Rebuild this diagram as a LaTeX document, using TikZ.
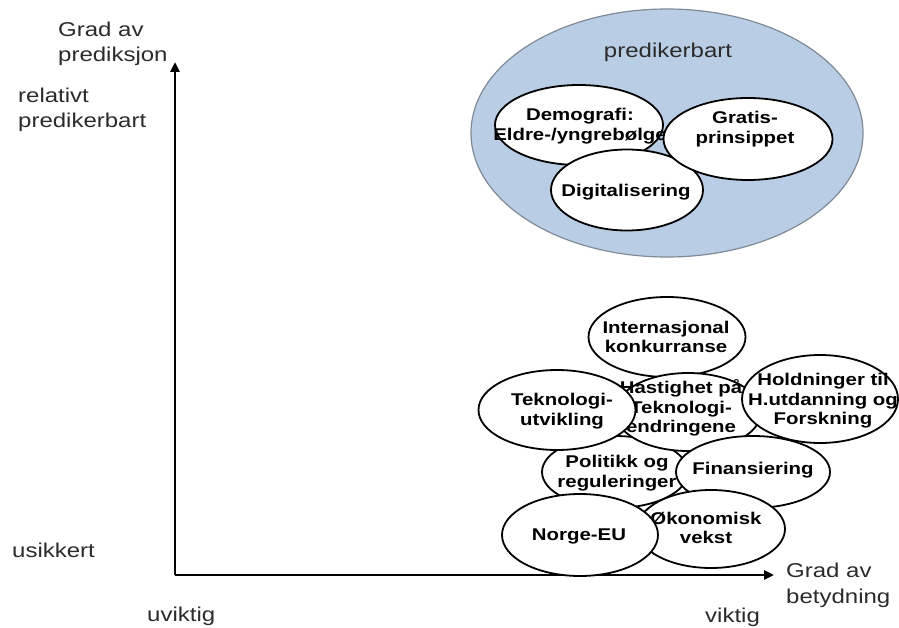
\documentclass[tikz,border=0pt]{standalone}
\usepackage{fontspec}
\setmainfont[FakeStretch=1.2]{Liberation Sans}
\usetikzlibrary{shapes.geometric,arrows.meta}
\definecolor{cloudfill}{HTML}{B9CDE5}
\definecolor{cloudedge}{HTML}{7F8A96}
\definecolor{labelgray}{HTML}{2B2B2B}
\tikzset{
  factor/.style={ellipse,draw=black,line width=1.8pt,fill=white,inner sep=0pt},
  factortext/.style={align=center,inner sep=0pt,font=\bfseries\fontsize{17}{19.5}\selectfont},
  axislabel/.style={align=left,inner sep=0pt,anchor=west,text=labelgray,font=\fontsize{20}{25}\selectfont},
  axisline/.style={line width=2.6pt,-{Triangle[length=10pt,width=9pt]}}
}
\begin{document}
\begin{tikzpicture}[x=1pt,y=-1pt]
\useasboundingbox (0,0) rectangle (899,628);

% axes
\coordinate (origin) at (175,575);
\coordinate (ytop) at (175,62);
\coordinate (xend) at (774,575);
\draw[axisline] (origin) -- (ytop);
\draw[axisline] (origin) -- (xend);

% axis captions
\node[axislabel] (ycap) at (58,44) {Grad av\\prediksjon};
\node[axislabel] (yhigh) at (18,110) {relativt\\predikerbart};
\node[axislabel] (ylow) at (12,550) {usikkert};
\node[axislabel] (xlow) at (147,616) {uviktig};
\node[axislabel] (xhigh) at (705,617) {viktig};
\node[axislabel,font=\fontsize{20}{26}\selectfont] (xcap) at (786,585) {Grad av\\betydning};

% predictable group
\node[ellipse,draw=cloudedge,line width=1.2pt,fill=cloudfill,minimum width=392pt,minimum height=248pt,inner sep=0pt] (cloud) at (667,133) {};
\node[inner sep=0pt,text=labelgray,font=\fontsize{20}{25}\selectfont] (cloudlbl) at (668,52) {predikerbart};

\node[factor,minimum width=168pt,minimum height=80pt] (demo) at (579,125) {};
\node[factortext] (demo-t) at (580,126) {Demografi:\\Eldre-/yngrebølge};
\node[factor,minimum width=152pt,minimum height=81pt] (digi) at (627,190) {};
\node[factortext] (digi-t) at (626,192) {Digitalisering};
\node[factor,minimum width=169pt,minimum height=82pt] (gratis) at (748,139) {};
\node[factortext] (gratis-t) at (745,129) {Gratis-\\prinsippet};

% uncertain, important factors
\node[factor,minimum width=157pt,minimum height=80pt] (intl) at (667,337) {};
\node[factortext] (intl-t) at (666,337) {Internasjonal\\konkurranse};
\node[factor,minimum width=146pt,minimum height=72pt] (pol) at (615,472) {};
\node[factortext] (pol-t) at (617,473) {Politikk og\\reguleringer};
\node[factor,minimum width=146pt,minimum height=78pt] (fart) at (688,412) {};
\node[factortext] (fart-t) at (681,408) {Hastighet på\\Teknologi-\\endringene};
\node[factor,minimum width=157pt,minimum height=80pt] (tekn) at (557,410) {};
\node[factortext] (tekn-t) at (562,411) {Teknologi-\\utvikling};
\node[factor,minimum width=154pt,minimum height=72pt] (fin) at (753,472) {};
\node[factortext] (fin-t) at (753,470) {Finansiering};
\node[factor,minimum width=156pt,minimum height=88pt] (hold) at (820,399) {};
\node[factortext] (hold-t) at (823,401) {Holdninger til\\H.utdanning og\\Forskning};
\node[factor,minimum width=148pt,minimum height=78pt] (okon) at (711,529) {};
\node[factortext] (okon-t) at (706,528) {Økonomisk\\vekst};
\node[factor,minimum width=156pt,minimum height=82pt] (eu) at (580,535) {};
\node[factortext] (eu-t) at (579,536) {Norge-EU};
\end{tikzpicture}
\end{document}
